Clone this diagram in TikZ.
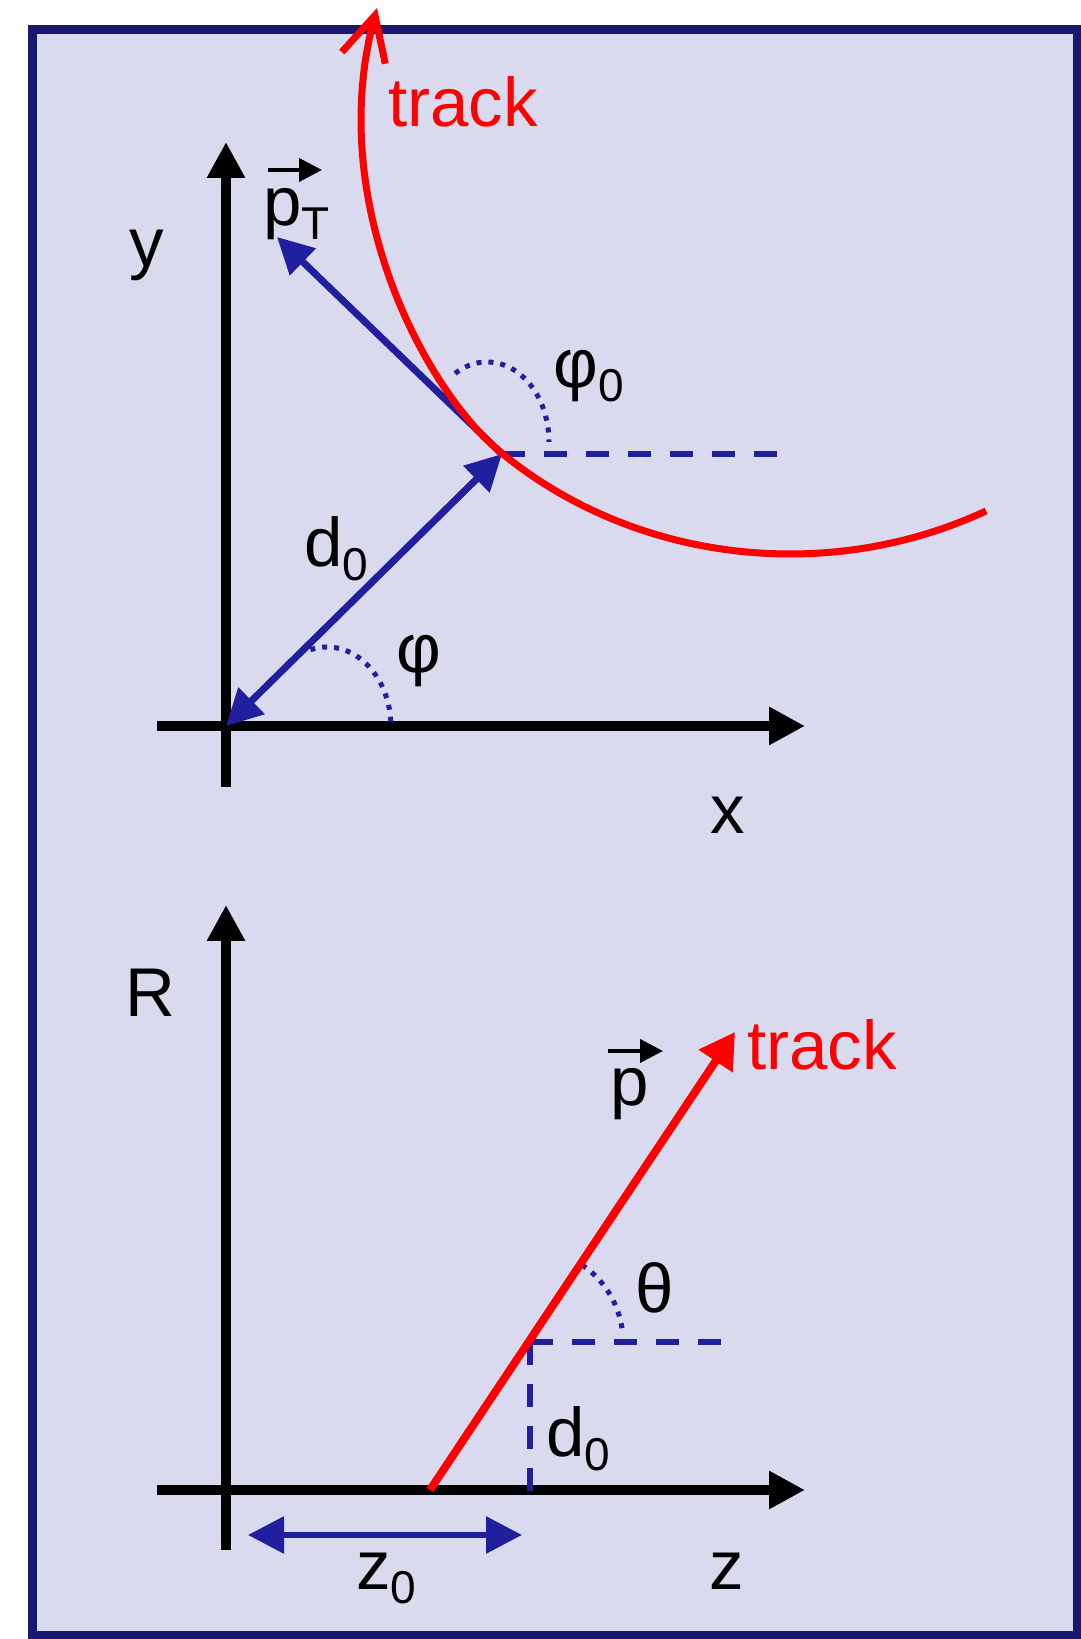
\documentclass[tikz,border=0pt]{standalone}
\usepackage{fontspec}
\setmainfont{Liberation Sans}
\usetikzlibrary{arrows.meta,calc}

\definecolor{panelfill}{RGB}{218,218,238}
\definecolor{panelline}{RGB}{24,24,112}
\definecolor{vecblue}{RGB}{32,32,158}
\definecolor{trackred}{RGB}{255,0,0}

\newcommand{\lowidx}[1]{\raisebox{-0.2em}{\fontsize{23}{23}\selectfont #1}}

\begin{document}
\begin{tikzpicture}[x=0.5pt,y=0.5pt,>={Triangle[length=18pt,width=18pt]},
    every node/.style={font=\fontsize{34.5}{40}\selectfont,inner sep=0pt},
    axis/.style={line width=5pt,->},
    vec/.style={vecblue,line width=3.5pt},
    guide/.style={vecblue,line width=3pt,dash pattern=on 11.5pt off 9.5pt},
    angmark/.style={vecblue,line width=2.5pt,dash pattern=on 2.5pt off 3.5pt},
    trackline/.style={trackred,line width=3.5pt},
    vecsym/.style={line width=2pt,-{Triangle[length=11.5pt,width=11.5pt]}}]
  \useasboundingbox (0,0) rectangle (1081,1639);
  \draw[panelline,fill=panelfill,line width=4.5pt] (32,3) rectangle (1077,1609);

  % transverse plane
  \coordinate (O1) at (226,913);
  \coordinate (P) at (502,1185);
  \coordinate (pTend) at (277,1402);
  \coordinate (hc) at (790,1480);
  \coordinate (trktip) at (377,1631);
  \draw[axis] (157,913) -- (805,913);
  \draw[axis] (226,852) -- (226,1497);
  \draw[guide] (P) -- (787,1185);
  \draw[angmark] ($(487,1197)+(121:62 and 80)$)
    arc[start angle=121,end angle=0,x radius=62,y radius=80];
  \draw[angmark] ($(327,912)+(105:64 and 80)$)
    arc[start angle=105,end angle=0,x radius=64,y radius=80];
  \draw[vec,<->] (O1) -- (P);
  \draw[vec,->] (P) -- (pTend);
  \draw[trackline,-{Straight Barb[length=22pt,width=22.5pt]}]
    ($(hc)+(297:432 and 395)$)
    arc[start angle=297,end angle=228.3,x radius=432,y radius=395]
    .. controls (424.5,1248) and (325,1438) .. (trktip);
  \node[trackred,anchor=base west] (trk1) at (388,1512) {track};
  \node[anchor=base] (ylab) at (147,1372) {y};
  \node[anchor=base] (xlab) at (728,805) {x};
  \node[anchor=base west] (pTlab) at (263,1413) {p\lowidx{T}};
  \draw[vecsym] ($(pTlab.base west)+(5,56)$) -- ++(54,0);
  \node[anchor=base west] (phi0lab) at (553,1251) {φ\lowidx{0}};
  \node[anchor=base west] (d0lab) at (304,1072) {d\lowidx{0}};
  \node[anchor=base west] (philab) at (396,966) {φ};

  % longitudinal plane
  \coordinate (O2) at (226,149);
  \coordinate (Q) at (530,297);
  \coordinate (z0) at (430,149);
  \coordinate (trkend) at (735,607);
  \draw[axis] (157,149) -- (805,149);
  \draw[axis] (226,89) -- (226,734);
  \draw[guide] (Q) -- (735,297);
  \draw[guide] (Q) -- (530,144);
  \draw[angmark] ($(Q)+(56:93)$) arc[start angle=56,end angle=5,radius=93];
  \draw[trackred,line width=4pt,-{Triangle[length=17.5pt,width=19.5pt]}]
    (z0) -- (trkend);
  \draw[vec,line width=3pt,<->] (248,104) -- (522,104);
  \node[trackred,anchor=base west] (trk2) at (747,569) {track};
  \node[anchor=base west] (plab) at (610,533) {p};
  \draw[vecsym] ($(plab.base west)+(-2,55)$) -- ++(55,0);
  \node[anchor=base west] (thlab) at (635,326) {θ};
  \node[anchor=base] (Rlab) at (150,622) {R};
  \node[anchor=base] (zlab) at (727,49) {z};
  \node[anchor=base west] (z0lab) at (356,49) {z\lowidx{0}};
  \node[anchor=base west] (d0lab2) at (546,182) {d\lowidx{0}};
\end{tikzpicture}
\end{document}
